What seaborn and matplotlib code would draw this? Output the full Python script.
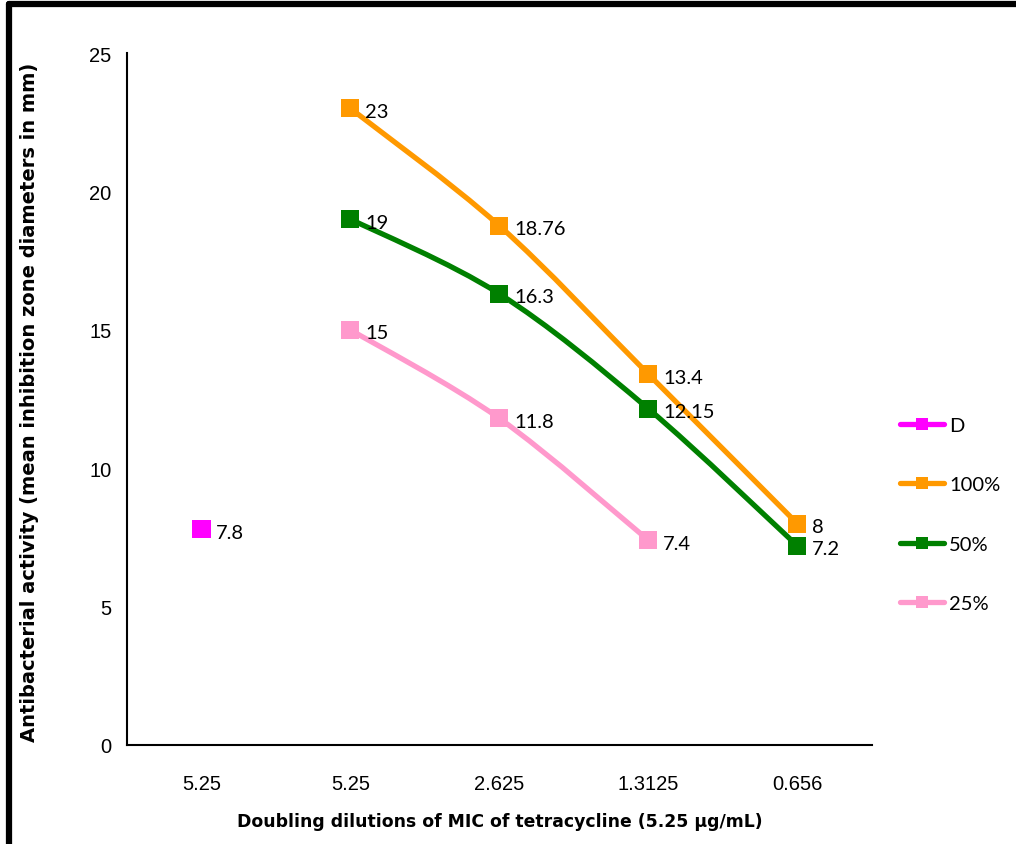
import numpy as np
import pandas as pd
import matplotlib
matplotlib.use("Agg")
import matplotlib.pyplot as plt
from matplotlib.path import Path
from matplotlib.patches import PathPatch
from matplotlib.lines import Line2D
import seaborn as sns

# ---- data ----
categories = ["5.25", "5.25", "2.625", "1.3125", "0.656"]
series_names = ["D", "100%", "50%", "25%"]
d_values = [7.8, None, None, None, None]
v100 = [None, 23, 18.76, 13.4, 8]
v50 = [None, 19, 16.3, 12.15, 7.2]
v25 = [None, 15, 11.8, 7.4, None]
label_text = {
    "D": ["7.8"],
    "100%": ["23", "18.76", "13.4", "8"],
    "50%": ["19", "16.3", "12.15", "7.2"],
    "25%": ["15", "11.8", "7.4"],
}
colors = {"D": "#FF00FF", "100%": "#FF9900", "50%": "#008000", "25%": "#FF99CC"}
y_ticks = [0, 5, 10, 15, 20, 25]

rows = []
for name, vals in zip(series_names, [d_values, v100, v50, v25]):
    for i, v in enumerate(vals):
        if v is not None:
            rows.append({"series": name, "pos": i, "value": v})
df = pd.DataFrame(rows)

sns.set_style("white")
plt.rcParams["font.family"] = ["Liberation Sans", "DejaVu Sans"]
plt.rcParams["text.color"] = "black"
plt.rcParams["xtick.color"] = "black"
plt.rcParams["ytick.color"] = "black"
plt.rcParams["axes.labelcolor"] = "black"

fig = plt.figure(figsize=(10.16, 8.45), dpi=100)
ax = fig.add_axes([0.125, 0.1172, 0.733, 0.8188])
ax.set_xlim(-0.5, 4.5)
ax.set_ylim(0, 25)

# smooth curves (Excel-like smoothing through the points)
def smooth_path(xs, ys):
    pts = np.column_stack([xs, ys]).astype(float)
    n = len(pts)
    verts = [pts[0]]
    codes = [Path.MOVETO]
    for i in range(n - 1):
        p0 = pts[i - 1] if i > 0 else pts[i]
        p1 = pts[i]
        p2 = pts[i + 1]
        p3 = pts[i + 2] if i + 2 < n else pts[i + 1]
        c1 = p1 + (p2 - p0) / 6.0
        c2 = p2 - (p3 - p1) / 6.0
        verts += [c1, c2, p2]
        codes += [Path.CURVE4] * 3
    return Path(verts, codes)

for name in ["25%", "50%", "100%"]:
    sub = df[df.series == name].sort_values("pos")
    if len(sub) > 1:
        patch = PathPatch(smooth_path(sub.pos.values, sub.value.values),
                          facecolor="none", edgecolor=colors[name], lw=3.8,
                          capstyle="butt", joinstyle="round", zorder=2)
        ax.add_patch(patch)

sns.scatterplot(data=df, x="pos", y="value", hue="series", palette=colors,
                marker="s", s=13 ** 2, linewidth=0, legend=False, ax=ax, zorder=3)

for name in series_names:
    sub = df[df.series == name].sort_values("pos")
    for (x, y), t in zip(zip(sub.pos.values, sub.value.values), label_text[name]):
        ax.annotate(t, (x, y), xytext=(10.5, -2.2), textcoords="offset points",
                    ha="left", va="center", fontsize=14.5, family=["Lato", "DejaVu Sans"],
                    color="black", zorder=4)

# axes styling
ax.set_yticks(y_ticks)
ax.set_yticklabels([str(t) for t in y_ticks], fontsize=14.5, family=["Liberation Sans"])
ax.set_xticks(np.arange(-0.5, 5.0, 1.0))
ax.set_xticklabels([])
ax.set_xticks(np.arange(0, 5), minor=True)
ax.set_xticklabels(categories, minor=True, fontsize=14.5, family=["Liberation Sans"])
ax.tick_params(axis="x", which="major", direction="out", length=5, width=1.3, color="black")
ax.tick_params(axis="x", which="minor", length=0, pad=21)
ax.tick_params(axis="y", direction="out", length=5, width=1.3, color="black", pad=6)
for s in ["top", "right"]:
    ax.spines[s].set_visible(False)
for s in ["left", "bottom"]:
    ax.spines[s].set_color("black")
    ax.spines[s].set_linewidth(1.5)
ax.set_xlabel("")
ax.set_ylabel("")

fig.text(0.492, 0.017, "Doubling dilutions of MIC of tetracycline (5.25 \u00b5g/mL)",
         ha="center", va="bottom", fontsize=12.4, fontweight="bold",
         family=["DejaVu Sans"], color="black")
fig.text(0.0295, 0.524, "Antibacterial activity (mean inhibition zone diameters in mm)",
         ha="center", va="center", rotation=90, fontsize=14, fontweight="bold",
         family=["DejaVu Sans"], color="black")

# legend
handles = [Line2D([0], [0], color=colors[n], lw=3.8, marker="s", markersize=9,
                  markeredgewidth=0) for n in series_names]
leg = fig.legend(handles, series_names, loc="center left",
                 bbox_to_anchor=(0.868, 0.39), frameon=False,
                 handlelength=2.2, handletextpad=0.25, labelspacing=2.1,
                 prop={"family": ["Lato", "DejaVu Sans"], "size": 14.5})

# outer frame (thick black border)
fig.add_artist(Line2D([0.009, 1.0], [0.994, 0.994], transform=fig.transFigure,
                      color="black", lw=4.5))
fig.add_artist(Line2D([0.009, 0.009], [0.0, 0.994], transform=fig.transFigure,
                      color="black", lw=4.5))

fig.savefig("out.png", dpi=100, facecolor="white")
